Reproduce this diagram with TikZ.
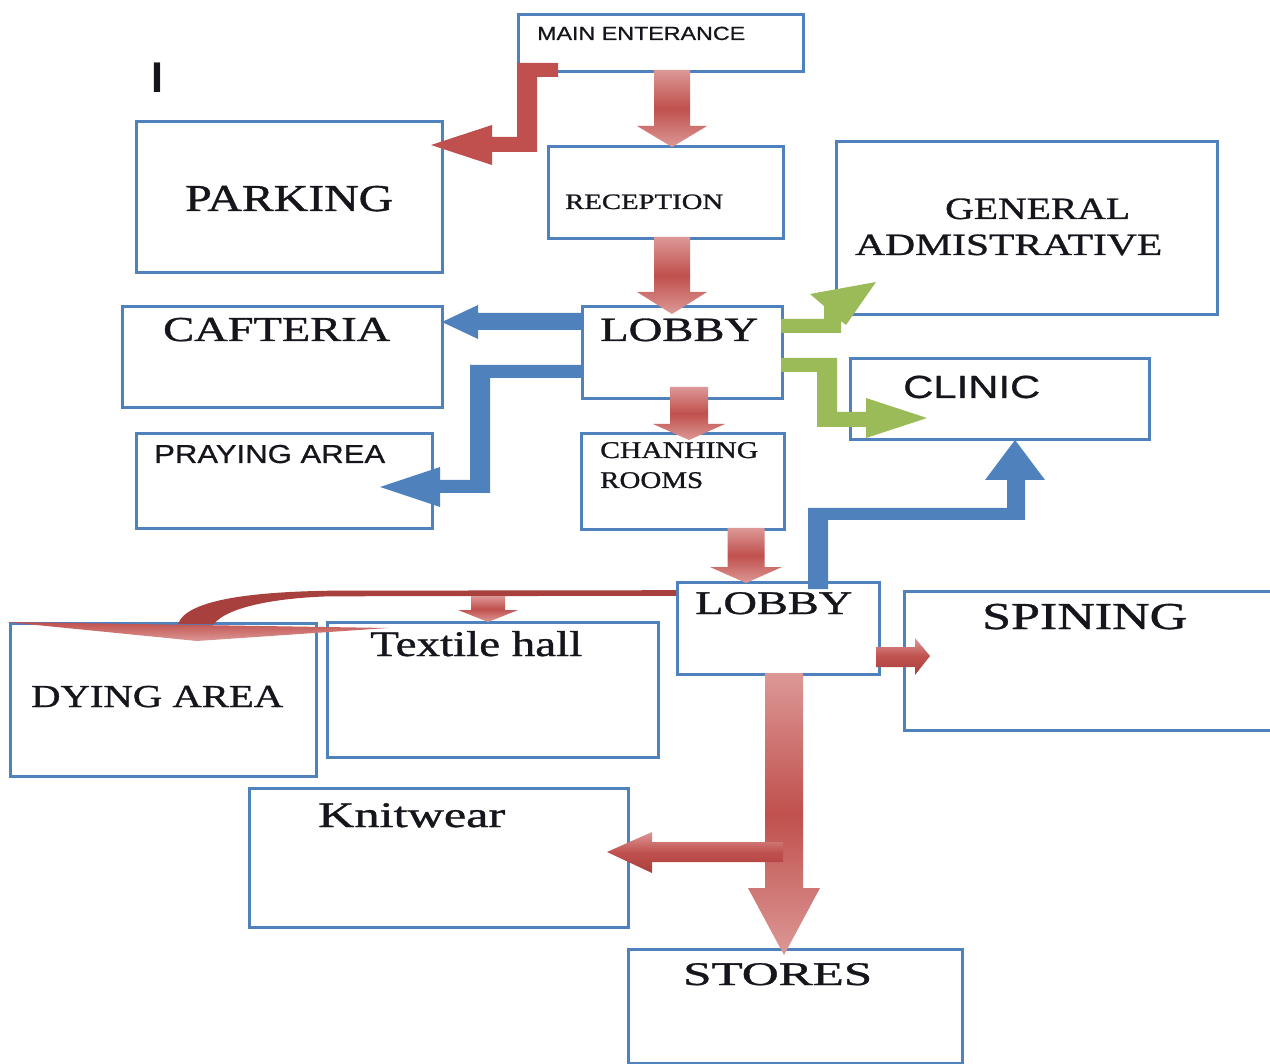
\documentclass[tikz,border=0pt]{standalone}
\usepackage{fontspec}
\usepackage{graphicx}
\usetikzlibrary{calc}
\newfontfamily\roomserif[FakeBold=0.9]{Liberation Serif}
\newfontfamily\roomsans[FakeBold=0.7]{Liberation Sans}
\newfontfamily\cursorfont{Liberation Sans Bold}
\definecolor{redM}{HTML}{C0504D}
\definecolor{redL}{HTML}{DC9896}
\definecolor{redD}{HTML}{A8403D}
\definecolor{blueM}{HTML}{4F81BD}
\definecolor{greenM}{HTML}{9BBB59}
\definecolor{inkc}{HTML}{15161C}
\tikzset{
  room/.style={draw=blueM, line width=2.8pt, fill=white, inner sep=0pt, anchor=north west},
  lbl/.style={inner sep=0pt, anchor=base west, text=inkc},
  redgrad/.style={top color=redL, bottom color=redL, middle color=redM},
  redflat/.style={fill=redM},
  bluearrow/.style={fill=blueM},
  greenarrow/.style={fill=greenM}
}
% serif label: name, x, baseline, width, size, text
\newcommand\slab[6]{\node[lbl] (#1) at (#2,#3) {\resizebox{#4pt}{\height}{\fontsize{#5}{#5}\roomserif\selectfont #6}};}
% sans label
\newcommand\alab[6]{\node[lbl] (#1) at (#2,#3) {\resizebox{#4pt}{\height}{\fontsize{#5}{#5}\roomsans\selectfont #6}};}
% vertical block arrow: cx, ytop, yheadbase, ytip, half shaft, half head
\newcommand\blkdown[6]{\path[redgrad] (#1-#5,#2) -- (#1+#5,#2) -- (#1+#5,#3) -- (#1+#6,#3) -- (#1,#4) -- (#1-#6,#3) -- (#1-#5,#3) -- cycle;}
\begin{document}
\begin{tikzpicture}[x=1pt,y=-1pt]
\useasboundingbox (0,0) rectangle (1270,1064);
\fill[white] (0,0) rectangle (1270,1064);

% rooms
\node[room, minimum width=285pt, minimum height=57pt]  (mainent)   at (517,13)  {};
\node[room, minimum width=306pt, minimum height=151pt] (parking)   at (135,120) {};
\node[room, minimum width=235pt, minimum height=92pt]  (reception) at (547,145) {};
\node[room, minimum width=381pt, minimum height=173pt] (genadmin)  at (835,140) {};
\node[room, minimum width=320pt, minimum height=101pt] (cafteria)  at (121,305) {};
\node[room, minimum width=200pt, minimum height=92pt]  (lobbyA)    at (581,305) {};
\node[room, minimum width=299pt, minimum height=81pt]  (clinic)    at (849,357) {};
\node[room, minimum width=296pt, minimum height=95pt]  (praying)   at (135,432) {};
\node[room, minimum width=203pt, minimum height=96pt]  (changing)  at (580,432) {};
\node[room, minimum width=202pt, minimum height=92pt]  (lobbyB)    at (676,581) {};
\node[room, minimum width=387pt, minimum height=139pt] (spining)   at (903,590) {};
\node[room, minimum width=306pt, minimum height=153pt] (dying)     at (9,622)   {};
\node[room, minimum width=331pt, minimum height=135pt] (textile)   at (326,621) {};
\node[room, minimum width=379pt, minimum height=139pt] (knitwear)  at (248,787) {};
\node[room, minimum width=334pt, minimum height=114pt] (stores)    at (627,948) {};

% main entrance to parking (elbow)
\path[redflat] (558,63) -- (558,77) -- (537,77) -- (537,152) -- (492,152) -- (492,165)
  -- (431,145) -- (492,125) -- (492,137) -- (517,137) -- (517,63) -- cycle;

% straight red block arrows down the main axis
\blkdown{672}{70}{126}{147}{18}{35}
\blkdown{672}{237}{292}{314}{18}{35}
\blkdown{689}{387}{424}{440}{19}{36}
\blkdown{746}{528}{567}{583}{18.5}{36}
\blkdown{784}{673}{888}{955}{19}{36}

% branch to knitwear
\path[top color=redL, bottom color=redD, middle color=redM]
  (783,842) -- (652,842) -- (652,832) -- (607,852) -- (652,873) -- (652,862) -- (783,862) -- cycle;

% lobby to spining
\path[top color=redL, bottom color=redD, middle color=redM]
  (876,647) -- (915,647) -- (915,638) -- (930,656) -- (915,675) -- (915,667) -- (876,667) -- cycle;

% lobby to cafteria
\path[bluearrow] (581,313) -- (478,313) -- (478,305) -- (442,322) -- (478,339) -- (478,330) -- (581,330) -- cycle;

% lobby to praying area
\path[bluearrow] (581,365) -- (470,365) -- (470,480) -- (440,480) -- (440,467) -- (380,487)
  -- (440,507) -- (440,493) -- (490,493) -- (490,378) -- (581,378) -- cycle;

% lobby to general administrative
\path[greenarrow] (781,319) -- (824,319) -- (824,306) -- (810,294) -- (876,282) -- (846,325)
  -- (841,321) -- (841,333) -- (781,333) -- cycle;

% lobby to clinic (green)
\path[greenarrow] (781,358) -- (837,358) -- (837,412) -- (866,412) -- (866,398) -- (927,418)
  -- (866,438) -- (866,427) -- (817,427) -- (817,372) -- (781,372) -- cycle;

% second lobby to clinic (blue)
\path[bluearrow] (808,589) -- (808,508) -- (1007,508) -- (1007,480) -- (985,480) -- (1015,440)
  -- (1045,480) -- (1025,480) -- (1025,520) -- (828,520) -- (828,589) -- cycle;

% second lobby to dying area and textile hall
\coordinate (lineend) at ($(lobbyB.north west)+(0,12)$);
\path[fill=redD] ($(lineend)+(0,-2.8)$) -- (330,590.7) .. controls (245,592) and (186,601) .. (178,624)
  -- (214,624) .. controls (226,608) and (272,598) .. (330,596.3) -- ($(lineend)+(0,2.8)$) -- cycle;
\path[top color=redM, bottom color=redL] (6,622) -- (388,628) -- (197,641) -- cycle;
\blkdown{488}{596}{610}{622}{17}{30}

% labels
\alab{tmain}{537}{40}{208}{19}{MAIN ENTERANCE}
\slab{tpark}{185}{211}{208}{38}{PARKING}
\slab{trec}{565}{209}{158}{22}{RECEPTION}
\slab{tgen}{945}{219}{185}{31}{GENERAL}
\slab{tadm}{855}{255}{307}{31}{ADMISTRATIVE}
\slab{tcaf}{163}{341}{227}{35}{CAFTERIA}
\slab{tlobA}{600}{341}{158}{34}{LOBBY}
\alab{tcli}{903}{398}{137}{32}{CLINIC}
\alab{tpray}{154}{463}{231}{26}{PRAYING AREA}
\slab{tchan}{600}{458}{158}{24}{CHANHING}
\slab{troom}{600}{488}{103}{24}{ROOMS}
\slab{tlobB}{695}{614}{157}{33}{LOBBY}
\slab{tspin}{982}{629}{205}{38}{SPINING}
\slab{ttex}{370}{656}{212}{36}{Textile hall}
\slab{tdye}{31}{707}{252}{32}{DYING AREA}
\slab{tknit}{318}{827}{187}{36}{Knitwear}
\slab{tstore}{683}{985}{189}{33}{STORES}
\node[lbl] (cursor) at (151,93) {\fontsize{43}{43}\cursorfont\selectfont I};
\end{tikzpicture}
\end{document}
